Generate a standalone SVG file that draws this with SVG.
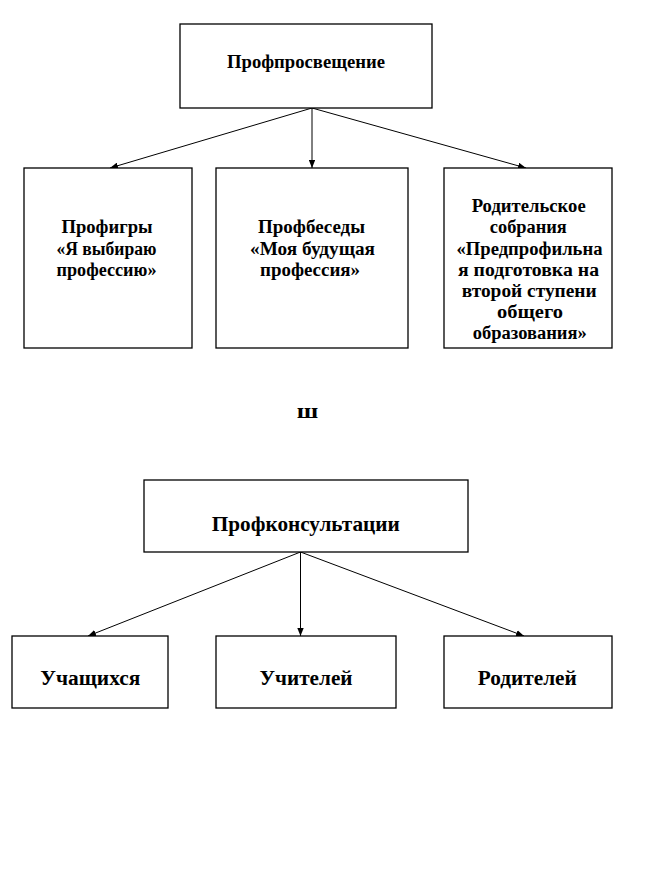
<svg xmlns="http://www.w3.org/2000/svg" width="649" height="889" viewBox="0 0 649 889">
<defs>
<style>
.box{fill:#fff;stroke:#000;stroke-width:1.3}
text{font-family:'Liberation Serif','Times New Roman','DejaVu Serif',serif;font-weight:bold;fill:#000;text-anchor:middle}
.s18{font-size:18px}
.s20{font-size:20px}
.s22{font-size:22px}
.c{stroke:#000;stroke-width:1;fill:none}
</style>
<marker id="ah" viewBox="0 0 10 8" refX="10" refY="4" markerWidth="8" markerHeight="6.5" markerUnits="userSpaceOnUse" orient="auto">
<path d="M0,0 L10,4 L0,8 Z" fill="#000"/>
</marker>
</defs>
<rect width="649" height="889" fill="#fff"/>

<g id="connectors">
<line class="c" x1="312" y1="108" x2="110" y2="168" marker-end="url(#ah)"/>
<line class="c" x1="312" y1="108" x2="312" y2="168" marker-end="url(#ah)"/>
<line class="c" x1="312" y1="108" x2="526" y2="168" marker-end="url(#ah)"/>
<line class="c" x1="300.5" y1="552" x2="88" y2="636" marker-end="url(#ah)"/>
<line class="c" x1="300.5" y1="552" x2="300.5" y2="636" marker-end="url(#ah)"/>
<line class="c" x1="300.5" y1="552" x2="524" y2="636" marker-end="url(#ah)"/>
</g>

<g id="n-profprosv" font-family="Liberation Serif, serif">
<rect class="box" x="180" y="24" width="252" height="84"/>
<text class="s18" x="306" y="68" textLength="158" lengthAdjust="spacingAndGlyphs">Профпросвещение</text>
</g>

<g id="n-profigry">
<rect class="box" x="24" y="168" width="168" height="180"/>
<text class="s18" x="107" y="233" textLength="91" lengthAdjust="spacingAndGlyphs">Профигры</text>
<text class="s18" x="106.5" y="254.5" textLength="100" lengthAdjust="spacingAndGlyphs">«Я выбираю</text>
<text class="s18" x="106.5" y="276" textLength="100" lengthAdjust="spacingAndGlyphs">профессию»</text>
</g>

<g id="n-profbesedy">
<rect class="box" x="216" y="168" width="192" height="180"/>
<text class="s18" x="311.5" y="233" textLength="107" lengthAdjust="spacingAndGlyphs">Профбеседы</text>
<text class="s18" x="312.5" y="254.5" textLength="125" lengthAdjust="spacingAndGlyphs">«Моя будущая</text>
<text class="s18" x="310" y="276" textLength="100" lengthAdjust="spacingAndGlyphs">профессия»</text>
</g>

<g id="n-roditelskoe">
<rect class="box" x="444" y="168" width="168" height="180"/>
<text class="s18" x="528.7" y="212" textLength="114" lengthAdjust="spacingAndGlyphs">Родительское</text>
<text class="s18" x="528.3" y="233" textLength="77" lengthAdjust="spacingAndGlyphs">собрания</text>
<text class="s18" x="529.5" y="254.5" textLength="146" lengthAdjust="spacingAndGlyphs">«Предпрофильна</text>
<text class="s18" x="528.5" y="275.5" textLength="141" lengthAdjust="spacingAndGlyphs">я подготовка на</text>
<text class="s18" x="529.2" y="297" textLength="135" lengthAdjust="spacingAndGlyphs">второй ступени</text>
<text class="s18" x="530" y="318" textLength="66" lengthAdjust="spacingAndGlyphs">общего</text>
<text class="s18" x="529.8" y="339" textLength="114" lengthAdjust="spacingAndGlyphs">образования»</text>
</g>

<g id="n-sh">
<text class="s22" x="307.5" y="418" textLength="21.5" lengthAdjust="spacingAndGlyphs">ш</text>
</g>

<g id="n-profkons">
<rect class="box" x="144" y="480" width="324" height="72"/>
<text class="s22" x="305.8" y="531" textLength="188" lengthAdjust="spacingAndGlyphs">Профконсультации</text>
</g>

<g id="n-uchashchikhsya">
<rect class="box" x="12" y="636" width="156" height="72"/>
<text class="s20" x="90.3" y="685" textLength="100" lengthAdjust="spacingAndGlyphs">Учащихся</text>
</g>

<g id="n-uchiteley">
<rect class="box" x="216" y="636" width="180" height="72"/>
<text class="s20" x="306" y="685" textLength="93" lengthAdjust="spacingAndGlyphs">Учителей</text>
</g>

<g id="n-roditeley">
<rect class="box" x="444" y="636" width="168" height="72"/>
<text class="s20" x="527.3" y="685" textLength="99" lengthAdjust="spacingAndGlyphs">Родителей</text>
</g>
</svg>
